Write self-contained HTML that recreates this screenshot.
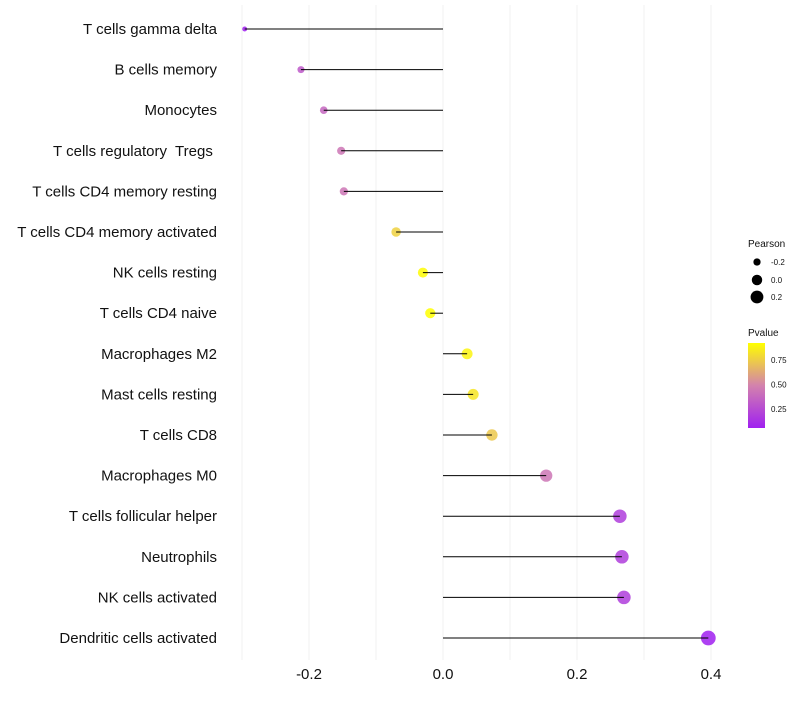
<!DOCTYPE html>
<html><head><meta charset="utf-8"><style>
body{margin:0;background:#fff;font-family:"Liberation Sans",sans-serif}
text{white-space:pre}
</style></head><body>
<svg id="c" width="800" height="700" xmlns="http://www.w3.org/2000/svg">
<defs><linearGradient id="pg" x1="0" y1="1" x2="0" y2="0">
<stop offset="0" stop-color="#a020f0"/><stop offset="0.5" stop-color="#d382ad"/><stop offset="1" stop-color="#ffff00"/></linearGradient></defs>
</svg>
<script>
const categories=["T cells gamma delta","B cells memory","Monocytes","T cells regulatory  Tregs ","T cells CD4 memory resting","T cells CD4 memory activated","NK cells resting","T cells CD4 naive","Macrophages M2","Mast cells resting","T cells CD8","Macrophages M0","T cells follicular helper","Neutrophils","NK cells activated","Dendritic cells activated"];
const pearson=[-0.296,-0.212,-0.178,-0.152,-0.148,-0.070,-0.030,-0.019,0.036,0.045,0.073,0.154,0.264,0.267,0.270,0.396];
const pvalue=[0.05,0.32,0.38,0.45,0.45,0.78,0.93,0.94,0.9,0.85,0.75,0.45,0.2,0.2,0.2,0.07];
const xTicks=[-0.2,0.0,0.2,0.4];
const xTickLabels=["-0.2","0.0","0.2","0.4"];
const gridX=[-0.3,-0.2,-0.1,0,0.1,0.2,0.3,0.4];
const svg=document.getElementById('c');const NS="http://www.w3.org/2000/svg";
const x=v=>443+v*670;
const y=i=>29+i*40.6;
const rad=v=>Math.sqrt(Math.max(1,23.3+64.3*v))+0.4;
function mix(a,b,t){return a.map((c,k)=>Math.round(c+(b[k]-c)*t));}
function col(p){const t=Math.min(1,Math.max(0,(p-0.07)/0.87));const P=[160,32,240],M=[211,130,173],Y=[255,255,0];
const c=t<0.5?mix(P,M,t*2):mix(M,Y,(t-0.5)*2);return `rgb(${c})`;}
function el(tag,at,txt){const e=document.createElementNS(NS,tag);for(const k in at)e.setAttribute(k,at[k]);if(txt!=null)e.textContent=txt;svg.appendChild(e);return e;}
gridX.forEach(g=>{const l=el('line',{x1:x(g),x2:x(g),y1:5,y2:660,stroke:'#f2f2f2','stroke-width':1});

});
xTicks.forEach((t,i)=>{const tx=el('text',{x:x(t),y:679,'text-anchor':'middle','font-size':15,fill:'#111'},xTickLabels[i]);

});
categories.forEach((c,i)=>{
const t=el('text',{x:217,y:y(i)+5,'text-anchor':'end','font-size':15,fill:'#111'},c);


const d=el('circle',{cx:x(pearson[i]),cy:y(i),r:rad(pearson[i]),fill:col(pvalue[i]),'fill-opacity':0.85});


const l=el('line',{x1:x(0),x2:x(pearson[i]),y1:y(i),y2:y(i),stroke:'#000','stroke-width':1});


});
const lt=el('text',{x:748,y:247,'font-size':10,fill:'#111'},'Pearson');


[[-0.2,262],[0,280],[0.2,297]].forEach(([v,yy])=>{
const c=el('circle',{cx:757,cy:yy,r:rad(v),fill:'#000'});


const t=el('text',{x:771,y:yy+3,'font-size':8,fill:'#111'},v===0?'0.0':v.toFixed(1));

});
const pt=el('text',{x:748,y:336,'font-size':10,fill:'#111'},'Pvalue');


const bar=el('rect',{x:748,y:343,width:17,height:85,fill:'url(#pg)'});


[[0.75,360],[0.5,384.5],[0.25,409]].forEach(([v,yy])=>{
const t=el('text',{x:771,y:yy+3,'font-size':8,fill:'#111'},v.toFixed(2));

});
</script>
</body></html>
